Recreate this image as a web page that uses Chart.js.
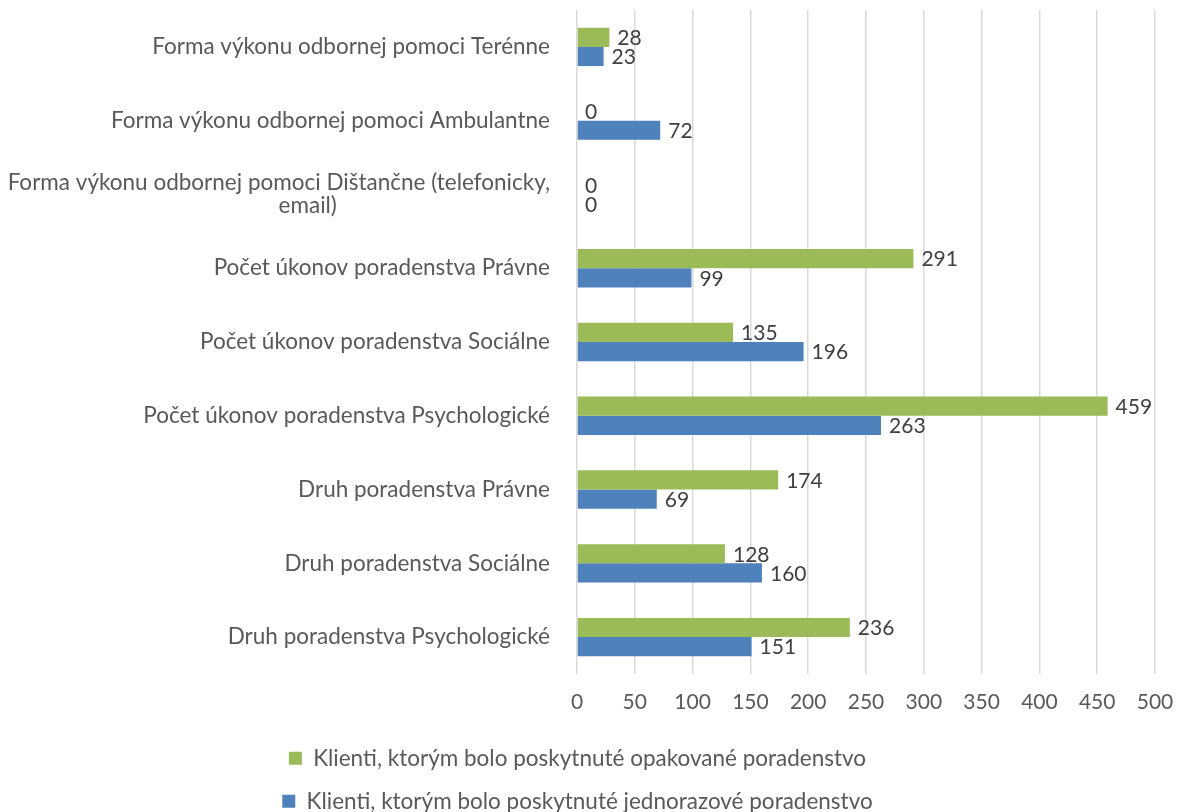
<!DOCTYPE html>
<html><head><meta charset="utf-8">
<script src="https://cdn.jsdelivr.net/npm/chart.js@4.4.1/dist/chart.umd.min.js"></script>
<style>html,body{margin:0;padding:0;background:#fff}</style>
</head>
<body>
<canvas id="c" width="1177" height="812"></canvas>
<script>
// ---- data ----
const categories = [
  'Forma výkonu odbornej pomoci Terénne',
  'Forma výkonu odbornej pomoci Ambulantne',
  ['Forma výkonu odbornej pomoci Dištančne (telefonicky,', 'email)'],
  'Počet úkonov poradenstva Právne',
  'Počet úkonov poradenstva Sociálne',
  'Počet úkonov poradenstva Psychologické',
  'Druh poradenstva Právne',
  'Druh poradenstva Sociálne',
  'Druh poradenstva Psychologické'
];
const seriesNames = [
  'Klienti, ktorým bolo poskytnuté opakované poradenstvo',
  'Klienti, ktorým bolo poskytnuté jednorazové poradenstvo'
];
const opakovane   = [28, 0, 0, 291, 135, 459, 174, 128, 236];
const jednorazove = [23, 72, 0, 99, 196, 263, 69, 160, 151];
const xMin = 0, xMax = 500, xStep = 50;

// ---- style ----
const FONT = 'Lato';
const FS = 21;      // numbers
const FS_T = 22.5;  // category labels & legend
const GREEN = '#9BBB59', BLUE = '#4F81BD';
const TXT = '#595959', LBL = '#404040';

// roughly center the lines of multi-line category labels (computed padding)
const mctx = document.createElement('canvas').getContext('2d');
function centerLines(lbl) {
  if (!Array.isArray(lbl)) return lbl;
  mctx.font = FS_T + 'px ' + FONT;
  const widths = lbl.map(s => mctx.measureText(s).width);
  const maxW = Math.max(...widths);
  const sp = mctx.measureText('\u00A0').width || 5;
  return lbl.map((s, i) => s + '\u00A0'.repeat(Math.round((maxW - widths[i]) * 0.44 / sp)));
}

const valueLabels = {
  id: 'valueLabels',
  afterDatasetsDraw(chart) {
    const ctx = chart.ctx;
    ctx.save();
    ctx.font = FS + 'px ' + FONT;
    ctx.fillStyle = LBL;
    ctx.textAlign = 'left';
    ctx.textBaseline = 'middle';
    chart.data.datasets.forEach((ds, di) => {
      const meta = chart.getDatasetMeta(di);
      meta.data.forEach((el, i) => {
        ctx.fillText(String(ds.data[i]), el.x + 8, el.y + 1);
      });
    });
    ctx.restore();
  }
};

document.fonts.load(FS_T + 'px ' + FONT).then(draw, draw);
function draw() {
  new Chart(document.getElementById('c'), {
    type: 'bar',
    data: {
      labels: categories,
      datasets: [
        { label: seriesNames[0], data: opakovane, backgroundColor: GREEN, borderWidth: 0,
          categoryPercentage: 0.52, barPercentage: 1.0 },
        { label: seriesNames[1], data: jednorazove, backgroundColor: BLUE, borderWidth: 0,
          categoryPercentage: 0.52, barPercentage: 1.0 }
      ]
    },
    options: {
      indexAxis: 'y',
      responsive: false,
      animation: false,
      devicePixelRatio: 1,
      layout: { padding: { top: 10, right: 22, left: 0, bottom: -10.5 } },
      scales: {
        x: {
          min: xMin, max: xMax,
          ticks: { stepSize: xStep, padding: 16, color: TXT, font: { family: FONT, size: FS } },
          grid: { color: '#D9D9D9', lineWidth: 1.5, drawTicks: false },
          border: { display: false },
          afterFit(s) { s.height = 52.5; s.paddingLeft = 0; s.paddingRight = 0; }
        },
        y: {
          ticks: {
            padding: 27, color: TXT, font: { family: FONT, size: FS_T, lineHeight: 1.0 },
            callback: function (v) { return centerLines(categories[v]); }
          },
          grid: { display: false, drawTicks: false },
          border: { display: false },
          afterFit(s) { s.width = 577; s.paddingTop = 0; s.paddingBottom = 0; }
        }
      },
      plugins: {
        legend: {
          position: 'bottom',
          labels: { boxWidth: 13, boxHeight: 13, padding: 20.5, color: TXT,
                    font: { family: FONT, size: FS_T } }
        },
        tooltip: { enabled: false }
      }
    },
    plugins: [valueLabels]
  });
}
</script>
</body></html>
